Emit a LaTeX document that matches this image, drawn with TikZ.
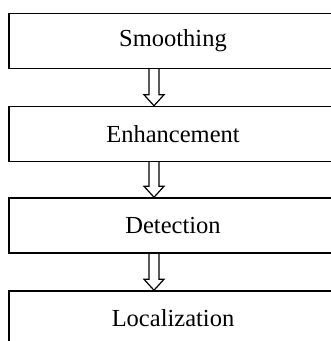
\documentclass[tikz,border=0pt]{standalone}
\usepackage{fontspec}
\setmainfont{Liberation Serif}
\usetikzlibrary{calc}

\tikzset{
    stage/.style={draw, line width=1.5pt, minimum width=328pt, minimum height=55pt,
        inner sep=0pt, font=\fontsize{24.5}{29}\selectfont},
    hollow/.style={line width=1.2pt, line join=miter}
}

% open block arrow from the bottom of #1 to the top of #2
\newcommand{\hollowarrow}[2]{%
    \draw[hollow] ($(#1.south)+(-24,0)$) -- ($(#2.north)+(-24,11)$)
        -- ($(#2.north)+(-29,11)$) -- ($(#2.north)+(-19,0)$)
        -- ($(#2.north)+(-9,11)$) -- ($(#2.north)+(-14,11)$)
        -- ($(#1.south)+(-14,0)$);
}

\begin{document}
\begin{tikzpicture}[x=1pt, y=1pt]
    \useasboundingbox (0,0) rectangle (331,341);
    \clip (0,0) rectangle (331,341);

    \node[stage] (smooth) at (173,300) {Smoothing};
    \node[stage] (enhance) at (173,207) {Enhancement};
    \node[stage] (detect) at (173,115.5) {Detection};
    \node[stage] (local) at (173,22.5) {Localization};

    \hollowarrow{smooth}{enhance}
    \hollowarrow{enhance}{detect}
    \hollowarrow{detect}{local}
\end{tikzpicture}
\end{document}
